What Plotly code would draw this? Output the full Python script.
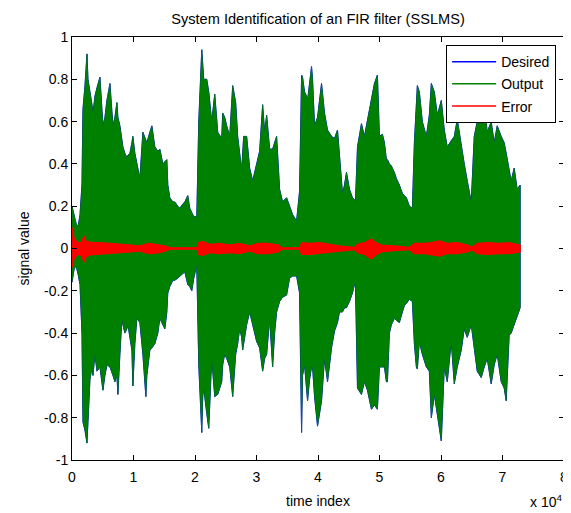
import plotly.graph_objects as go

# Envelope of the Desired / Output signals, sample index
t_env = [0, 325, 650, 975, 1300, 1620, 1785, 2110, 2435, 2600, 2920, 3245, 3410, 3730, 4060,
         4545, 5030, 5355, 5680, 6170, 6655, 6980, 7300, 7465, 7790, 8115, 8275, 8600, 8925,
         9090, 9415, 9740, 9900, 10225, 10550, 11035, 11525, 12010, 12170, 12660, 12985, 13470,
         13960, 14280, 14770, 15095, 15420, 15580, 15905, 16390, 16715, 17200, 17530, 18015,
         18340, 18825, 19150, 19475, 19800, 20290, 20610, 21100, 21260, 21420, 21910, 22235,
         22720, 23210, 23695, 24345, 24505, 24830, 25155, 25645, 26130, 26615, 26940, 27265,
         27590, 27750, 27915, 28400, 28890, 29375, 29700, 30025, 30510, 31000, 31325, 31650,
         32135, 32620, 32945, 33270, 33760, 34245, 34895, 35380, 35870, 36520, 37000, 37330,
         37490, 37815, 38140, 38300, 38625, 38950, 39115, 39440, 39925, 40250, 40575, 41060,
         41550, 42200, 42685, 43170, 43495, 43985, 44310, 44630, 45120, 45605, 45930, 46090,
         46420, 47065, 47550, 48040, 48690, 49175, 49660, 49990, 50475, 50800, 51125, 51290,
         51610, 51935, 52420, 52750, 53235, 53720, 54045, 54370, 54855, 55345, 55670, 55995,
         56155, 56480, 56965, 57615, 58100, 58430, 58915, 59400, 59725, 60050, 60535, 61020,
         61670, 62160, 62645, 63295, 63780, 64270, 64920, 65405, 65890, 66540, 67030, 67515,
         68165, 68650, 69140, 69790, 70275, 70600, 71085, 71410, 71900, 72385, 72870]
out_upper = [0.20, 0.16, 0.12, 0.10, 0.16, 0.30, 0.66, 0.77, 0.92, 0.80, 0.75, 0.68, 0.64, 0.72, 0.76,
             0.81, 0.58, 0.62, 0.70, 0.78, 0.58, 0.62, 0.69, 0.62, 0.58, 0.52, 0.48, 0.45, 0.43,
             0.44, 0.45, 0.50, 0.53, 0.45, 0.40, 0.33, 0.55, 0.51, 0.50, 0.55, 0.58, 0.48,
             0.46, 0.47, 0.40, 0.41, 0.42, 0.30, 0.24, 0.22, 0.22, 0.20, 0.19, 0.21,
             0.22, 0.25, 0.19, 0.17, 0.15, 0.15, 0.60, 0.94, 0.83, 0.80, 0.80, 0.74,
             0.60, 0.73, 0.55, 0.52, 0.64, 0.62, 0.58, 0.53, 0.77, 0.69, 0.53, 0.45,
             0.37, 0.45, 0.53, 0.53, 0.38, 0.32, 0.36, 0.40, 0.46, 0.68, 0.55, 0.63,
             0.47, 0.47, 0.50, 0.53, 0.28, 0.22, 0.24, 0.20, 0.16, 0.13, 0.27, 0.82,
             0.81, 0.74, 0.72, 0.70, 0.78, 0.86, 0.80, 0.58, 0.62, 0.70, 0.78, 0.64,
             0.56, 0.53, 0.52, 0.56, 0.42, 0.26, 0.30, 0.36, 0.28, 0.24, 0.23, 0.22,
             0.48, 0.59, 0.53, 0.61, 0.72, 0.78, 0.82, 0.53, 0.54, 0.50, 0.42, 0.42,
             0.40, 0.39, 0.36, 0.33, 0.30, 0.26, 0.25, 0.24, 0.20, 0.19, 0.50, 0.66,
             0.77, 0.74, 0.60, 0.53, 0.63, 0.78, 0.74, 0.63, 0.66, 0.70, 0.56, 0.48,
             0.51, 0.53, 0.61, 0.48, 0.40, 0.32, 0.22, 0.53, 0.60, 0.66, 0.69, 0.55,
             0.60, 0.50, 0.58, 0.53, 0.50, 0.45, 0.38, 0.32, 0.38, 0.28, 0.30]
out_lower = [-0.16, -0.10, -0.08, -0.12, -0.17, -0.40, -0.82, -0.86, -0.92, -0.78, -0.62, -0.56, -0.60, -0.50, -0.58,
             -0.56, -0.67, -0.60, -0.55, -0.56, -0.60, -0.63, -0.60, -0.69, -0.50, -0.33, -0.36, -0.40, -0.38,
             -0.36, -0.42, -0.48, -0.65, -0.45, -0.33, -0.35, -0.50, -0.70, -0.60, -0.48, -0.47, -0.45,
             -0.40, -0.33, -0.36, -0.38, -0.30, -0.21, -0.18, -0.15, -0.15, -0.14, -0.13, -0.12,
             -0.11, -0.17, -0.18, -0.20, -0.14, -0.08, -0.55, -0.87, -0.70, -0.66, -0.78, -0.85,
             -0.52, -0.70, -0.69, -0.63, -0.55, -0.50, -0.52, -0.56, -0.70, -0.50, -0.45, -0.38,
             -0.42, -0.48, -0.45, -0.36, -0.30, -0.36, -0.40, -0.44, -0.47, -0.58, -0.52, -0.50,
             -0.33, -0.56, -0.40, -0.30, -0.25, -0.23, -0.22, -0.14, -0.13, -0.13, -0.21, -0.87,
             -0.60, -0.55, -0.65, -0.72, -0.62, -0.56, -0.56, -0.70, -0.84, -0.78, -0.72, -0.52,
             -0.63, -0.47, -0.39, -0.35, -0.30, -0.30, -0.28, -0.28, -0.25, -0.21, -0.17, -0.17,
             -0.66, -0.69, -0.63, -0.67, -0.76, -0.74, -0.76, -0.56, -0.56, -0.56, -0.63, -0.63,
             -0.40, -0.36, -0.33, -0.34, -0.35, -0.30, -0.27, -0.26, -0.24, -0.25, -0.45, -0.56,
             -0.57, -0.44, -0.50, -0.56, -0.58, -0.80, -0.69, -0.78, -0.85, -0.91, -0.56, -0.63,
             -0.44, -0.64, -0.56, -0.48, -0.38, -0.42, -0.36, -0.48, -0.58, -0.61, -0.56, -0.52,
             -0.64, -0.55, -0.50, -0.63, -0.66, -0.72, -0.41, -0.40, -0.36, -0.32, -0.28]

# Envelope of the Error signal
t_err = [0, 325, 810, 1300, 1620, 1950, 2270, 2920, 3730, 4545, 6170, 7790, 9415, 11035, 11850,
         12660, 14280, 15255, 15905, 20290, 20610, 21260, 22400, 24020, 25645, 27265, 28890,
         30190, 31810, 33600, 34080, 37000, 37330, 38625, 40250, 41875, 43495, 45930, 46420,
         47550, 48690, 49335, 50310, 52420, 54855, 55670, 57290, 58430, 59725, 61020, 62645,
         64270, 65080, 65890, 67840, 69465, 71085, 72870]
err_upper = [0.10, 0.05, 0.03, 0.025, 0.035, 0.06, 0.035, 0.03, 0.028, 0.028, 0.024, 0.02, 0.016, 0.012, 0.02,
             0.024, 0.016, 0.012, 0.003, 0.003, 0.028, 0.032, 0.02, 0.024, 0.016, 0.024, 0.012,
             0.024, 0.024, 0.016, 0.003, 0.003, 0.028, 0.024, 0.028, 0.02, 0.012, 0.005, 0.02,
             0.028, 0.045, 0.028, 0.016, 0.012, 0.005, 0.024, 0.024, 0.028, 0.036, 0.024, 0.028,
             0.016, 0.007, 0.024, 0.028, 0.024, 0.028, 0.016]
err_lower = [-0.09, -0.05, -0.03, -0.028, -0.04, -0.065, -0.04, -0.03, -0.028, -0.028, -0.024, -0.02, -0.016, -0.012, -0.02,
             -0.024, -0.02, -0.012, -0.003, -0.003, -0.028, -0.032, -0.02, -0.024, -0.02, -0.024, -0.012,
             -0.024, -0.024, -0.016, -0.003, -0.003, -0.028, -0.028, -0.024, -0.02, -0.012, -0.005, -0.02,
             -0.028, -0.05, -0.032, -0.016, -0.01, -0.005, -0.024, -0.024, -0.028, -0.036, -0.024, -0.024,
             -0.016, -0.007, -0.024, -0.028, -0.024, -0.024, -0.016]

x_tickvals = [0, 10000, 20000, 30000, 40000, 50000, 60000, 70000, 80000]
x_ticktext = ["0", "1", "2", "3", "4", "5", "6", "7", "8"]
y_tickvals = [-1, -0.8, -0.6, -0.4, -0.2, 0, 0.2, 0.4, 0.6, 0.8, 1]
y_ticktext = ["-1", "-0.8", "-0.6", "-0.4", "-0.2", "0", "0.2", "0.4", "0.6", "0.8", "1"]

series_names = ["Desired", "Output", "Error"]
series_colors = ["#0000ff", "#008000", "#ff0000"]

FONT = "Liberation Sans, Arial, sans-serif"

# The page body has an 8px default margin, so the figure is 8px smaller each way.
W, H = 563, 505


def band(t, up, lo):
    return list(t) + list(t)[::-1], list(up) + list(lo)[::-1]


fig = go.Figure()
bx, by = band(t_env, out_upper, out_lower)
ex, ey = band(t_err, err_upper, err_lower)

fig.add_trace(go.Scatter(x=bx, y=by, fill="toself", fillcolor=series_colors[0], mode="lines",
                         line=dict(color=series_colors[0], width=1.0), showlegend=False,
                         hoverinfo="skip"))
fig.add_trace(go.Scatter(x=bx, y=by, fill="toself", fillcolor=series_colors[1], mode="lines",
                         line=dict(color=series_colors[1], width=0.6), showlegend=False,
                         hoverinfo="skip"))
fig.add_trace(go.Scatter(x=ex, y=ey, fill="toself", fillcolor=series_colors[2], mode="lines",
                         line=dict(color=series_colors[2], width=1.2), showlegend=False,
                         hoverinfo="skip"))

for i, (name, col) in enumerate(zip(series_names, series_colors)):
    fig.add_trace(go.Scatter(x=[None], y=[None], mode="lines", name=name,
                             legendgroup=name, line=dict(color=col, width=1.5)))

axis_common = dict(showline=True, linecolor="black", linewidth=1, mirror="ticks",
                   ticks="inside", ticklen=5, tickcolor="black", showgrid=False,
                   zeroline=False, automargin=False,
                   tickfont=dict(family=FONT, size=14, color="black"))

fig.update_layout(
    width=W, height=H,
    margin=dict(l=64, r=7, t=29, b=53, autoexpand=False),
    paper_bgcolor="white", plot_bgcolor="white",
    font=dict(family=FONT, size=14, color="black"),
    title=dict(text="System Identification of an FIR filter (SSLMS)", x=0.5, xanchor="center",
               xref="paper", y=1 - 11 / H, yanchor="middle", yref="container",
               font=dict(family=FONT, size=14.6, color="black")),
    xaxis=dict(range=[0, 80000], tickvals=x_tickvals, ticktext=x_ticktext,
               ticklabelstandoff=4,
               title=dict(text="time index", standoff=12,
                          font=dict(family=FONT, size=14, color="black")),
               **axis_common),
    yaxis=dict(range=[-1, 1], tickvals=y_tickvals, ticktext=y_ticktext,
               title=dict(text="signal value", standoff=11,
                          font=dict(family=FONT, size=14, color="black")),
               **axis_common),
    legend=dict(x=0.984, xanchor="right", y=0.981, yanchor="top",
                bgcolor="white", bordercolor="black", borderwidth=1, itemwidth=44,
                tracegroupgap=1, font=dict(family=FONT, size=14, color="black")),
    showlegend=True,
    annotations=[dict(text="x 10<sup>4</sup>", xref="paper", yref="paper", x=1.0, y=-0.123,
                      xanchor="right", yanchor="bottom", showarrow=False,
                      font=dict(family=FONT, size=14, color="black"))],
)

fig.write_html("out.html")
